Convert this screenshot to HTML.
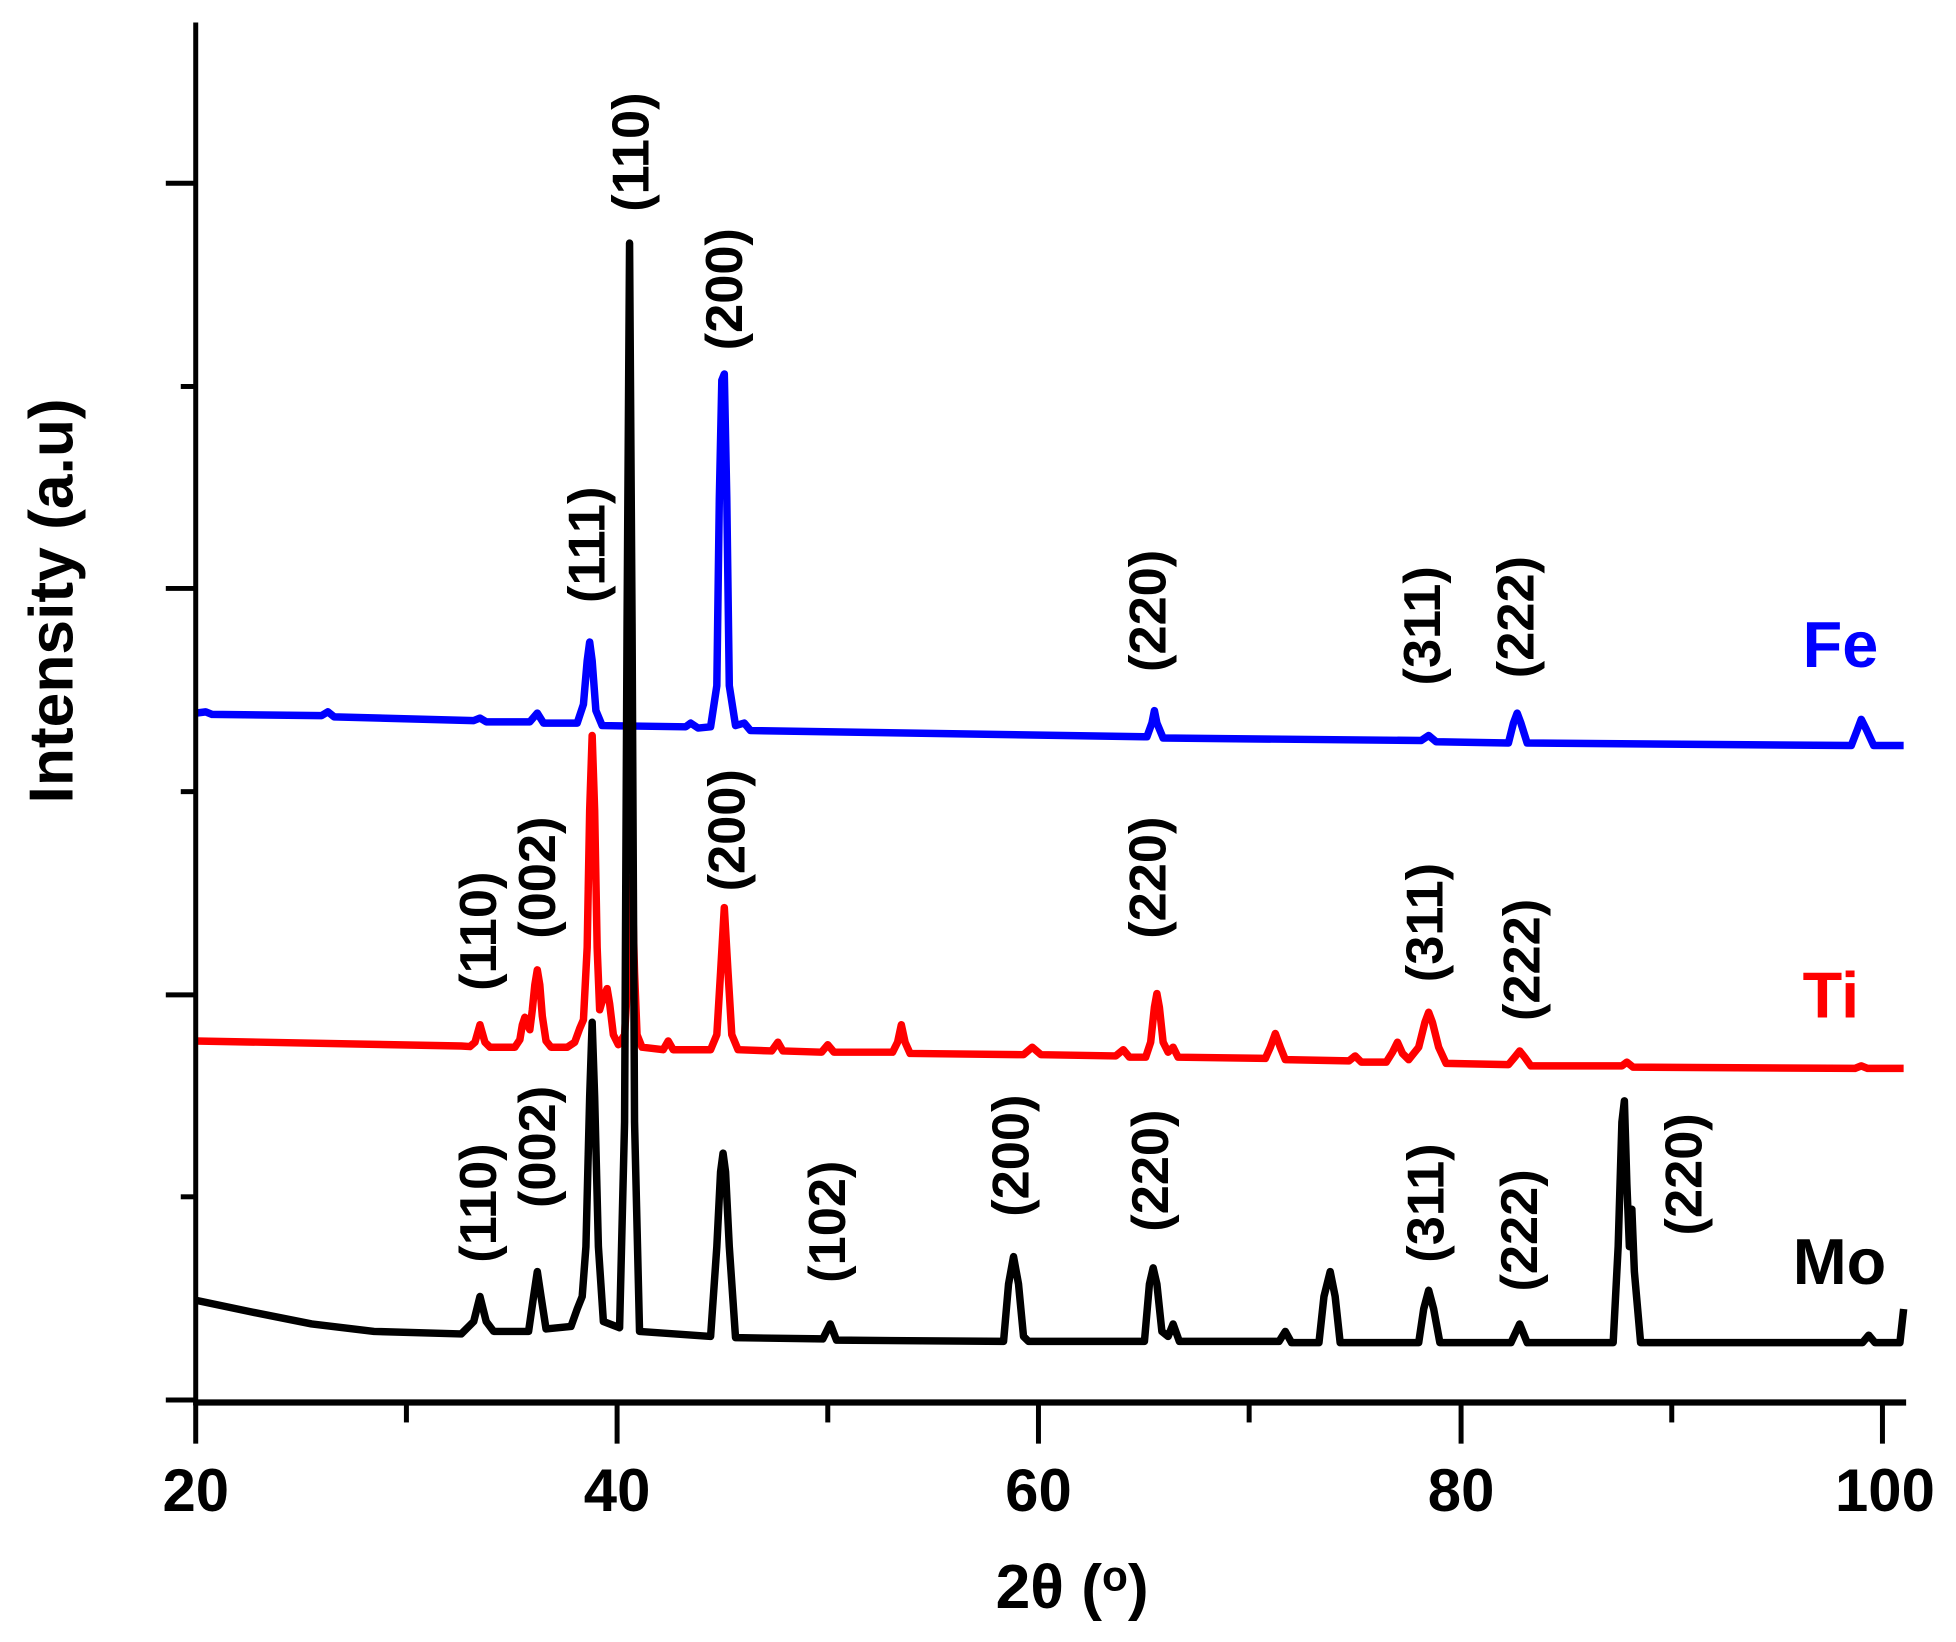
<!DOCTYPE html>
<html><head><meta charset="utf-8">
<style>html,body{margin:0;padding:0;background:#fff}svg{display:block}text{font-family:"Liberation Sans",Arial,sans-serif;font-weight:bold}</style>
</head><body>
<svg width="1956" height="1642" viewBox="0 0 1569 1317.1" xmlns="http://www.w3.org/2000/svg">
<rect width="1569" height="1318" fill="#fff"/>
<g fill="none" stroke-linejoin="round" stroke-width="6">
<path stroke="#ff0000" d="M157,835 L370,839 L377,839.5 L381,836 L383,829 L385,822 L387,829 L389,836 L393,840 L413,840 L417,834 L419,822 L421,816 L423,822 L425,826 L427,810 L429,790 L431,778 L433,790 L435,815 L438,835 L442,840 L455,840 L461,836 L465,825 L468,818 L471,760 L473,650 L475,590 L477,650 L479,760 L481,810 L484,800 L487,793 L489,805 L492,830 L496,838 L501,830 L504,780 L507,705 L509,780 L511,830 L515,840 L532,842 L536,835 L540,842 L570,842 L575,830 L578,780 L581,728 L584,780 L587,830 L592,842 L619,843 L624,836 L628,843 L659,844 L664,838 L669,844 L716,844 L720,836 L723,822 L726,836 L730,845 L821,846 L828,840 L835,846 L895,847 L901,842 L906,848 L919,848 L923,836 L926,808 L928,797 L930,808 L933,836 L937,844 L941,840 L945,848 L1015,849 L1019,840 L1023,829 L1027,840 L1031,850 L1082,851 L1087,847 L1092,852 L1112,852 L1117,844 L1121,836 L1125,845 L1130,850 L1138,840 L1143,820 L1146,812 L1149,820 L1154,840 L1160,853 L1210,854 L1215,848 L1219,843 L1223,848 L1228,855 L1301,855 L1305,852 L1310,856 L1488,857 L1493,855 L1498,857 L1527,857"/>
<path stroke="#0000ff" d="M157,572 L165,571 L170,573 L258,574 L263,571 L268,575 L380,578 L385,576 L390,579 L425,579 L431,572 L436,580 L463,580 L468,565 L471,530 L473,515 L475,530 L478,570 L483,582 L550,583 L554,580 L560,584 L570,583 L575,550 L577,400 L579,305 L581,300 L583,400 L585,550 L590,582 L597,580 L602,586 L920,591 L924,580 L926,570 L928,580 L933,592 L1140,594 L1146,590 L1152,595 L1210,596 L1214,580 L1217,572 L1220,580 L1225,596 L1485,598 L1490,585 L1493,577 L1497,585 L1503,598 L1527,598"/>
<path stroke="#000000" d="M157,1043 L200,1052 L250,1062 L300,1068 L370,1070 L380,1060 L385,1040 L390,1060 L396,1068 L424,1068 L428,1040 L431,1020 L434,1040 L438,1066 L458,1064 L463,1050 L467,1040 L470,1000 L473,880 L475,820 L477,880 L480,1000 L484,1060 L497,1065 L501,900 L503,500 L505,195 L507,500 L509,900 L513,1068 L570,1072 L575,1000 L578,940 L580,925 L582,940 L585,1000 L590,1073 L660,1074 L666,1062 L671,1075 L805,1076 L809,1030 L813,1008 L817,1030 L821,1072 L825,1076 L918,1076 L922,1030 L925,1017 L928,1030 L932,1068 L937,1072 L941,1062 L946,1076 L1026,1076 L1031,1068 L1036,1077 L1058,1077 L1062,1040 L1067,1020 L1071,1040 L1075,1077 L1138,1077 L1142,1050 L1146,1035 L1150,1050 L1155,1077 L1212,1077 L1219,1062 L1225,1077 L1294,1077 L1298,1000 L1301,900 L1303,883 L1305,950 L1307,1000 L1309,970 L1311,1020 L1316,1077 L1494,1077 L1499,1071 L1504,1077 L1524,1077 L1527,1050"/>
</g>
<g stroke="#000" stroke-width="4" fill="none">
<line x1="157" y1="18" x2="157" y2="1127"/>
<line x1="155" y1="1125" x2="1529" y2="1125" stroke-width="5"/>
<line x1="133" y1="147" x2="157" y2="147"/><line x1="145" y1="310" x2="157" y2="310"/>
<line x1="133" y1="472" x2="157" y2="472"/><line x1="145" y1="635" x2="157" y2="635"/>
<line x1="133" y1="798" x2="157" y2="798"/><line x1="145" y1="960" x2="157" y2="960"/>
<line x1="133" y1="1123" x2="157" y2="1123"/>
<line x1="157" y1="1125" x2="157" y2="1158"/><line x1="326" y1="1125" x2="326" y2="1141"/>
<line x1="495" y1="1125" x2="495" y2="1158"/><line x1="664" y1="1125" x2="664" y2="1141"/>
<line x1="833" y1="1125" x2="833" y2="1158"/><line x1="1002" y1="1125" x2="1002" y2="1141"/>
<line x1="1172" y1="1125" x2="1172" y2="1158"/><line x1="1341" y1="1125" x2="1341" y2="1141"/>
<line x1="1510" y1="1125" x2="1510" y2="1158"/>
</g>
<g font-size="48" text-anchor="middle" fill="#000">
<text x="157" y="1212">20</text><text x="495" y="1212">40</text><text x="833" y="1212">60</text><text x="1172" y="1212">80</text><text x="1512" y="1212">100</text>
<text x="860" y="1290" font-size="50">2θ (<tspan font-size="34" dy="-14">o</tspan><tspan dy="14">)</tspan></text>
<text transform="translate(58,482) rotate(-90)" font-size="50">Intensity (a.u)</text>
</g>
<g font-size="42" text-anchor="middle" fill="#000">
<text transform="translate(520,122) rotate(-90)">(110)</text>
<text transform="translate(485,437) rotate(-90)">(111)</text>
<text transform="translate(595,232) rotate(-90)">(200)</text>
<text transform="translate(935,490) rotate(-90)">(220)</text>
<text transform="translate(1155,502) rotate(-90)">(311)</text>
<text transform="translate(1230,495) rotate(-90)">(222)</text>
<text transform="translate(398,747) rotate(-90)">(110)</text>
<text transform="translate(445,704) rotate(-90)">(002)</text>
<text transform="translate(597,666) rotate(-90)">(200)</text>
<text transform="translate(935,704) rotate(-90)">(220)</text>
<text transform="translate(1157,740) rotate(-90)">(311)</text>
<text transform="translate(1235,770) rotate(-90)">(222)</text>
<text transform="translate(398,965) rotate(-90)">(110)</text>
<text transform="translate(445,920) rotate(-90)">(002)</text>
<text transform="translate(678,980) rotate(-90)">(102)</text>
<text transform="translate(825,927) rotate(-90)">(200)</text>
<text transform="translate(937,939) rotate(-90)">(220)</text>
<text transform="translate(1158,965) rotate(-90)">(311)</text>
<text transform="translate(1233,987) rotate(-90)">(222)</text>
<text transform="translate(1365,942) rotate(-90)">(220)</text>
</g>
<g font-size="52" fill="#000">
<text x="1446" y="535" fill="#0000ff">Fe</text>
<text x="1446" y="816" fill="#ff0000">Ti</text>
<text x="1438" y="1030">Mo</text>
</g>
</svg>
</body></html>
